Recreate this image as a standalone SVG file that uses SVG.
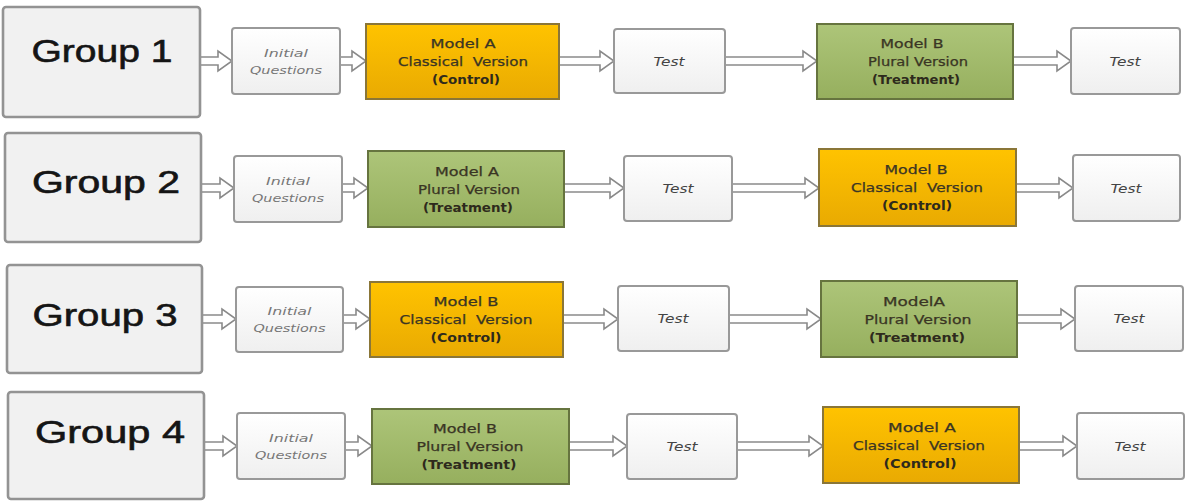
<svg xmlns="http://www.w3.org/2000/svg" width="1187" height="502" viewBox="0 0 1187 502">
  <defs>
    <linearGradient id="gOrange" x1="0" y1="0" x2="0" y2="1">
      <stop offset="0" stop-color="#ffc300"/>
      <stop offset="1" stop-color="#e9aa02"/>
    </linearGradient>
    <linearGradient id="gGreen" x1="0" y1="0" x2="0" y2="1">
      <stop offset="0" stop-color="#adc579"/>
      <stop offset="1" stop-color="#96af5e"/>
    </linearGradient>
    <linearGradient id="gWhite" x1="0" y1="0" x2="0" y2="1">
      <stop offset="0" stop-color="#ffffff"/>
      <stop offset="1" stop-color="#efefef"/>
    </linearGradient>
    <style>
      .grp { fill: #f1f1f1; stroke: #939393; stroke-width: 2.6; }
      .wbox { fill: url(#gWhite); stroke: #999999; stroke-width: 2; }
      .orange { fill: url(#gOrange); stroke: #8a7638; stroke-width: 2; }
      .green { fill: url(#gGreen); stroke: #66743f; stroke-width: 2; }
      .arrow { fill: #ffffff; stroke: #8a8a8a; stroke-width: 1.6; stroke-linejoin: miter; }
      .glabel { font-family: "Liberation Sans", Arial, sans-serif; font-size: 31px; fill: #151515; stroke: #151515; stroke-width: 0.6; text-anchor: middle; }
      .iq { font-family: "DejaVu Sans", Verdana, sans-serif; font-size: 11px; font-style: italic; fill: #777777; text-anchor: middle; }
      .test { font-family: "DejaVu Sans", Verdana, sans-serif; font-size: 12.5px; font-style: italic; fill: #444444; text-anchor: middle; }
      .mdl { font-family: "DejaVu Sans", Verdana, sans-serif; font-size: 11.5px; fill: #3a3524; stroke: #3a3524; stroke-width: 0.25; text-anchor: middle; white-space: pre; }
      .mdlb { font-family: "DejaVu Sans", Verdana, sans-serif; font-size: 11.5px; font-weight: bold; fill: #2e2a1c; text-anchor: middle; }
    </style>
  </defs>
  <rect width="1187" height="502" fill="#ffffff"/>

  <!-- connectors: hollow block arrows -->
  <g id="connectors">
    <path class="arrow" d="M200 57 H218 V51 L232 61 L218 71 V65 H200"/>
    <path class="arrow" d="M340 57 H352 V51 L366 61 L352 71 V65 H340"/>
    <path class="arrow" d="M559 57 H600 V51 L614 61 L600 71 V65 H559"/>
    <path class="arrow" d="M725 57 H803 V51 L817 61 L803 71 V65 H725"/>
    <path class="arrow" d="M1013 57 H1057 V51 L1071 61 L1057 71 V65 H1013"/>

    <path class="arrow" d="M201 184 H220 V178 L234 188 L220 198 V192 H201"/>
    <path class="arrow" d="M342 184 H354 V178 L368 188 L354 198 V192 H342"/>
    <path class="arrow" d="M564 184 H610 V178 L624 188 L610 198 V192 H564"/>
    <path class="arrow" d="M732 184 H805 V178 L819 188 L805 198 V192 H732"/>
    <path class="arrow" d="M1016 184 H1059 V178 L1073 188 L1059 198 V192 H1016"/>

    <path class="arrow" d="M202 315 H222 V309 L236 319 L222 329 V323 H202"/>
    <path class="arrow" d="M343 315 H356 V309 L370 319 L356 329 V323 H343"/>
    <path class="arrow" d="M563 315 H604 V309 L618 319 L604 329 V323 H563"/>
    <path class="arrow" d="M729 315 H807 V309 L821 319 L807 329 V323 H729"/>
    <path class="arrow" d="M1017 315 H1061 V309 L1075 319 L1061 329 V323 H1017"/>

    <path class="arrow" d="M204 442 H223 V436 L237 446 L223 456 V450 H204"/>
    <path class="arrow" d="M345 442 H358 V436 L372 446 L358 456 V450 H345"/>
    <path class="arrow" d="M569 442 H613 V436 L627 446 L613 456 V450 H569"/>
    <path class="arrow" d="M737 442 H809 V436 L823 446 L809 456 V450 H737"/>
    <path class="arrow" d="M1019 442 H1063 V436 L1077 446 L1063 456 V450 H1019"/>
  </g>

  <!-- Group 1 -->
  <g id="group1">
    <rect class="grp" x="3" y="7" width="197" height="110" rx="3"/>
    <text class="glabel" x="102" y="62" textLength="141" lengthAdjust="spacingAndGlyphs">Group 1</text>
  </g>
  <g id="g1-initial">
    <rect class="wbox" x="232" y="28" width="108" height="66" rx="3"/>
    <text class="iq" x="286" y="57" textLength="44" lengthAdjust="spacingAndGlyphs">Initial</text>
    <text class="iq" x="286" y="74" textLength="72" lengthAdjust="spacingAndGlyphs">Questions</text>
  </g>
  <g id="g1-model-a">
    <rect class="orange" x="366" y="24" width="193" height="75"/>
    <text class="mdl" x="463" y="48" textLength="65" lengthAdjust="spacingAndGlyphs">Model A</text>
    <text class="mdl" x="463" y="66" textLength="130" lengthAdjust="spacingAndGlyphs">Classical  Version</text>
    <text class="mdlb" x="466" y="84" textLength="68" lengthAdjust="spacingAndGlyphs">(Control)</text>
  </g>
  <g id="g1-test1">
    <rect class="wbox" x="614" y="29" width="111" height="64" rx="3"/>
    <text class="test" x="669" y="66" textLength="31" lengthAdjust="spacingAndGlyphs">Test</text>
  </g>
  <g id="g1-model-b">
    <rect class="green" x="817" y="24" width="196" height="75"/>
    <text class="mdl" x="912" y="48" textLength="63" lengthAdjust="spacingAndGlyphs">Model B</text>
    <text class="mdl" x="918" y="66" textLength="100" lengthAdjust="spacingAndGlyphs">Plural Version</text>
    <text class="mdlb" x="916" y="84" textLength="88" lengthAdjust="spacingAndGlyphs">(Treatment)</text>
  </g>
  <g id="g1-test2">
    <rect class="wbox" x="1071" y="28" width="109" height="66" rx="3"/>
    <text class="test" x="1125" y="66" textLength="31" lengthAdjust="spacingAndGlyphs">Test</text>
  </g>

  <!-- Group 2 -->
  <g id="group2">
    <rect class="grp" x="5" y="133" width="196" height="109" rx="3"/>
    <text class="glabel" x="106" y="193" textLength="148" lengthAdjust="spacingAndGlyphs">Group 2</text>
  </g>
  <g id="g2-initial">
    <rect class="wbox" x="234" y="156" width="108" height="66" rx="3"/>
    <text class="iq" x="288" y="185" textLength="44" lengthAdjust="spacingAndGlyphs">Initial</text>
    <text class="iq" x="288" y="202" textLength="72" lengthAdjust="spacingAndGlyphs">Questions</text>
  </g>
  <g id="g2-model-a">
    <rect class="green" x="368" y="151" width="196" height="76"/>
    <text class="mdl" x="467" y="176" textLength="64" lengthAdjust="spacingAndGlyphs">Model A</text>
    <text class="mdl" x="469" y="194" textLength="102" lengthAdjust="spacingAndGlyphs">Plural Version</text>
    <text class="mdlb" x="468" y="212" textLength="90" lengthAdjust="spacingAndGlyphs">(Treatment)</text>
  </g>
  <g id="g2-test1">
    <rect class="wbox" x="624" y="156" width="108" height="65" rx="3"/>
    <text class="test" x="678" y="193" textLength="31" lengthAdjust="spacingAndGlyphs">Test</text>
  </g>
  <g id="g2-model-b">
    <rect class="orange" x="819" y="149" width="197" height="77"/>
    <text class="mdl" x="916" y="174" textLength="63" lengthAdjust="spacingAndGlyphs">Model B</text>
    <text class="mdl" x="917" y="192" textLength="132" lengthAdjust="spacingAndGlyphs">Classical  Version</text>
    <text class="mdlb" x="917" y="210" textLength="70" lengthAdjust="spacingAndGlyphs">(Control)</text>
  </g>
  <g id="g2-test2">
    <rect class="wbox" x="1073" y="155" width="107" height="66" rx="3"/>
    <text class="test" x="1126" y="193" textLength="31" lengthAdjust="spacingAndGlyphs">Test</text>
  </g>

  <!-- Group 3 -->
  <g id="group3">
    <rect class="grp" x="7" y="265" width="195" height="108" rx="3"/>
    <text class="glabel" x="105" y="326" textLength="145" lengthAdjust="spacingAndGlyphs">Group 3</text>
  </g>
  <g id="g3-initial">
    <rect class="wbox" x="236" y="287" width="107" height="65" rx="3"/>
    <text class="iq" x="289.5" y="315" textLength="44" lengthAdjust="spacingAndGlyphs">Initial</text>
    <text class="iq" x="289.5" y="332" textLength="72" lengthAdjust="spacingAndGlyphs">Questions</text>
  </g>
  <g id="g3-model-b">
    <rect class="orange" x="370" y="282" width="193" height="75"/>
    <text class="mdl" x="466" y="306" textLength="65" lengthAdjust="spacingAndGlyphs">Model B</text>
    <text class="mdl" x="466" y="324" textLength="133" lengthAdjust="spacingAndGlyphs">Classical  Version</text>
    <text class="mdlb" x="466" y="342" textLength="71" lengthAdjust="spacingAndGlyphs">(Control)</text>
  </g>
  <g id="g3-test1">
    <rect class="wbox" x="618" y="286" width="111" height="65" rx="3"/>
    <text class="test" x="673" y="323" textLength="31" lengthAdjust="spacingAndGlyphs">Test</text>
  </g>
  <g id="g3-model-a">
    <rect class="green" x="821" y="281" width="196" height="76"/>
    <text class="mdl" x="914" y="306" textLength="62" lengthAdjust="spacingAndGlyphs">ModelA</text>
    <text class="mdl" x="918" y="324" textLength="107" lengthAdjust="spacingAndGlyphs">Plural Version</text>
    <text class="mdlb" x="917" y="342" textLength="96" lengthAdjust="spacingAndGlyphs">(Treatment)</text>
  </g>
  <g id="g3-test2">
    <rect class="wbox" x="1075" y="286" width="108" height="65" rx="3"/>
    <text class="test" x="1129" y="323" textLength="31" lengthAdjust="spacingAndGlyphs">Test</text>
  </g>

  <!-- Group 4 -->
  <g id="group4">
    <rect class="grp" x="8" y="392" width="196" height="107" rx="3"/>
    <text class="glabel" x="110" y="443" textLength="150" lengthAdjust="spacingAndGlyphs">Group 4</text>
  </g>
  <g id="g4-initial">
    <rect class="wbox" x="237" y="413" width="108" height="66" rx="3"/>
    <text class="iq" x="291" y="442" textLength="44" lengthAdjust="spacingAndGlyphs">Initial</text>
    <text class="iq" x="291" y="459" textLength="72" lengthAdjust="spacingAndGlyphs">Questions</text>
  </g>
  <g id="g4-model-b">
    <rect class="green" x="372" y="409" width="197" height="75"/>
    <text class="mdl" x="465" y="433" textLength="64" lengthAdjust="spacingAndGlyphs">Model B</text>
    <text class="mdl" x="470" y="451" textLength="107" lengthAdjust="spacingAndGlyphs">Plural Version</text>
    <text class="mdlb" x="469" y="469" textLength="95" lengthAdjust="spacingAndGlyphs">(Treatment)</text>
  </g>
  <g id="g4-test1">
    <rect class="wbox" x="627" y="414" width="110" height="65" rx="3"/>
    <text class="test" x="682" y="451" textLength="31" lengthAdjust="spacingAndGlyphs">Test</text>
  </g>
  <g id="g4-model-a">
    <rect class="orange" x="823" y="407" width="196" height="76"/>
    <text class="mdl" x="922" y="432" textLength="68" lengthAdjust="spacingAndGlyphs">Model A</text>
    <text class="mdl" x="919" y="450" textLength="132" lengthAdjust="spacingAndGlyphs">Classical  Version</text>
    <text class="mdlb" x="920" y="468" textLength="73" lengthAdjust="spacingAndGlyphs">(Control)</text>
  </g>
  <g id="g4-test2">
    <rect class="wbox" x="1077" y="413" width="107" height="66" rx="3"/>
    <text class="test" x="1130" y="451" textLength="31" lengthAdjust="spacingAndGlyphs">Test</text>
  </g>
</svg>
